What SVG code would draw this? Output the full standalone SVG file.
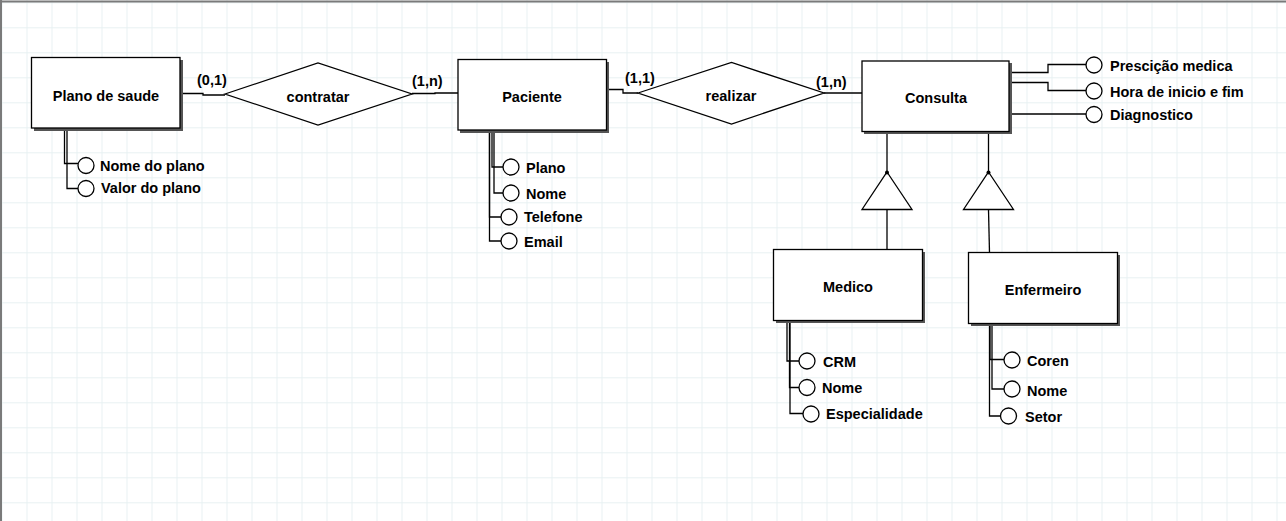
<svg xmlns="http://www.w3.org/2000/svg" width="1286" height="521" viewBox="0 0 1286 521">
<defs>
<pattern id="grid" x="1.5" y="2.3" width="25" height="25" patternUnits="userSpaceOnUse">
<path d="M0.5,0 V25 M0,0.5 H25" fill="none" stroke="#e8f1f2" stroke-width="1"/>
</pattern>
</defs>
<style>
.ent rect.sh{fill:#555;stroke:none}
.ent rect.bx{fill:#fff;stroke:#000;stroke-width:1.3}
.t{font-family:"Liberation Sans",Arial,sans-serif;font-weight:bold;font-size:14.5px;fill:#000}
.c{text-anchor:middle}
.ln{fill:none;stroke:#000;stroke-width:1.3}
.att circle{fill:#fff;stroke:#000;stroke-width:1.3}
.rel polygon{fill:#fff;stroke:#000;stroke-width:1.3}
.spec polygon{fill:#fff;stroke:#000;stroke-width:1.3}
</style>
<rect width="1286" height="521" fill="#fff"/>
<rect width="1286" height="521" fill="url(#grid)"/>
<path d="M0,1.5 H1286 M1,0 V521" stroke="#7a7a7a" stroke-width="2" fill="none"/>

<g id="connectors" class="ln">
<path d="M182,93.5 H203 V95 H225"/>
<path d="M412,93.5 H435 V93 H458"/>
<path d="M609,89.5 H623 V93 H638"/>
<path d="M824,93 H862"/>
<path d="M64.5,130 V163.5 H78"/>
<path d="M67,130 V188.5 H78"/>
<path d="M492,132 V167 H503"/>
<path d="M494,132 V193 H503"/>
<path d="M489.5,132 V217 H501"/>
<path d="M489.5,132 V241 H501"/>
<path d="M1012,72.5 H1048 V64.5 H1086"/>
<path d="M1012,82.5 H1048 V90.5 H1086"/>
<path d="M1012,114 H1086"/>
<path d="M887,133 V172"/>
<path d="M887,209.5 V249.5"/>
<path d="M988.5,133 V172"/>
<path d="M988.5,209.5 L989.5,253"/>
<path d="M787,322 V361 H799"/>
<path d="M789.5,322 V387.5 H799"/>
<path d="M790,322 V413.5 H803"/>
<path d="M990,325 V359.5 H1004"/>
<path d="M992,325 V389 H1004"/>
<path d="M989.5,325 V416 H1001"/>
</g>

<g id="card-labels" class="t">
<text x="197" y="85">(0,1)</text>
<text x="412" y="86">(1,n)</text>
<text x="625" y="83">(1,1)</text>
<text x="816" y="87">(1,n)</text>
</g>

<g id="ent-plano" class="ent">
<rect class="sh" x="34" y="60" width="149" height="71"/>
<rect class="bx" x="31.5" y="57.5" width="148.5" height="70.5"/>
<text class="t c" x="106" y="101">Plano de saude</text>
</g>
<g id="ent-paciente" class="ent">
<rect class="sh" x="460" y="62" width="149" height="71"/>
<rect class="bx" x="458" y="59.5" width="148.5" height="70.5"/>
<text class="t c" x="532" y="102">Paciente</text>
</g>
<g id="ent-consulta" class="ent">
<rect class="sh" x="864" y="63" width="148" height="71"/>
<rect class="bx" x="862" y="61" width="147" height="70.5"/>
<text class="t c" x="936" y="103">Consulta</text>
</g>
<g id="ent-medico" class="ent">
<rect class="sh" x="776" y="252" width="149" height="71"/>
<rect class="bx" x="773.5" y="249.5" width="149" height="71"/>
<text class="t c" x="848" y="292">Medico</text>
</g>
<g id="ent-enfermeiro" class="ent">
<rect class="sh" x="971" y="255" width="149" height="71"/>
<rect class="bx" x="968.5" y="252.5" width="149" height="71"/>
<text class="t c" x="1043" y="295">Enfermeiro</text>
</g>

<g id="rel-contratar" class="rel">
<polygon points="225,94 318,63 412,94 318,125"/>
<text class="t c" x="318" y="102">contratar</text>
</g>
<g id="rel-realizar" class="rel">
<polygon points="638,93 731.5,62.5 824,93 731.5,124"/>
<text class="t c" x="731" y="101">realizar</text>
</g>

<g id="spec-medico" class="spec">
<polygon points="887,172 912,209.5 862,209.5"/>
<circle cx="887" cy="172.5" r="2" fill="#000"/>
</g>
<g id="spec-enfermeiro" class="spec">
<polygon points="988.5,172 1013.5,209.5 963.5,209.5"/>
<circle cx="988.5" cy="172.5" r="2" fill="#000"/>
</g>

<g id="att-nome-plano" class="att"><circle cx="86" cy="165.5" r="8"/><text class="t" x="100" y="171">Nome do plano</text></g>
<g id="att-valor-plano" class="att"><circle cx="86" cy="188.5" r="8"/><text class="t" x="101" y="193">Valor do plano</text></g>

<g id="att-pac-plano" class="att"><circle cx="511" cy="167" r="8"/><text class="t" x="526" y="173">Plano</text></g>
<g id="att-pac-nome" class="att"><circle cx="511" cy="193" r="8"/><text class="t" x="526" y="199">Nome</text></g>
<g id="att-pac-telefone" class="att"><circle cx="509" cy="217" r="8"/><text class="t" x="524" y="222">Telefone</text></g>
<g id="att-pac-email" class="att"><circle cx="509" cy="241" r="8"/><text class="t" x="524" y="247">Email</text></g>

<g id="att-prescricao" class="att"><circle cx="1094" cy="65" r="8"/><text class="t" x="1110" y="71">Presciçã&#x006F; medica</text></g>
<g id="att-hora" class="att"><circle cx="1094" cy="91" r="8"/><text class="t" x="1110" y="97">Hora de inicio e fim</text></g>
<g id="att-diagnostico" class="att"><circle cx="1094" cy="114.5" r="8"/><text class="t" x="1110" y="120">Diagnostico</text></g>

<g id="att-crm" class="att"><circle cx="807" cy="361" r="8"/><text class="t" x="823" y="367">CRM</text></g>
<g id="att-med-nome" class="att"><circle cx="807" cy="387.5" r="8"/><text class="t" x="822" y="393">Nome</text></g>
<g id="att-especialidade" class="att"><circle cx="811" cy="414" r="8"/><text class="t" x="826" y="419">Especialidade</text></g>

<g id="att-coren" class="att"><circle cx="1012" cy="360" r="8"/><text class="t" x="1027" y="366">Coren</text></g>
<g id="att-enf-nome" class="att"><circle cx="1012" cy="389" r="8"/><text class="t" x="1027" y="396">Nome</text></g>
<g id="att-setor" class="att"><circle cx="1008.5" cy="416" r="8"/><text class="t" x="1025" y="422">Setor</text></g>
</svg>
